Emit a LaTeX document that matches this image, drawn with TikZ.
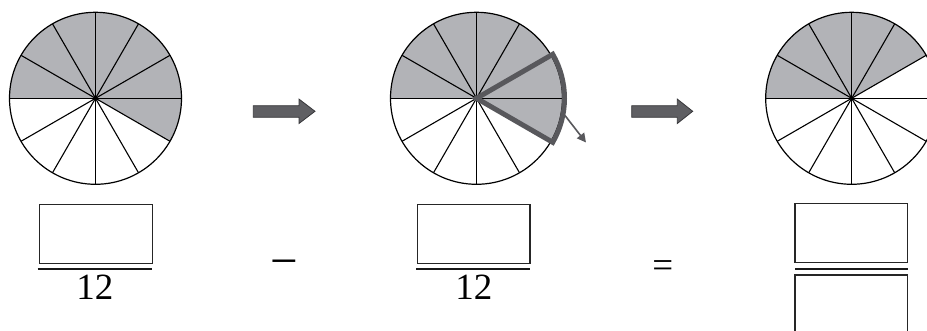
\documentclass[tikz,border=0pt]{standalone}
\usepackage{fontspec}
\setmainfont{Liberation Serif}
\usetikzlibrary{arrows.meta,calc}
\definecolor{sectorgray}{RGB}{178,179,183}
\definecolor{darkarrow}{RGB}{95,95,99}
\definecolor{darkedge}{RGB}{55,55,58}
\definecolor{outlinegray}{RGB}{88,88,92}
\tikzset{
  wheel/.style={circle,draw=black,line width=1.2pt,minimum size=172pt,inner sep=0pt},
  spoke/.style={draw=black,line width=1.1pt},
  blockarrow/.style={fill=darkarrow,draw=darkedge,line width=0.8pt,line join=miter},
  answerbox/.style={draw=black!85,line width=1.3pt,minimum width=112.7pt,minimum height=59pt,inner sep=0pt},
  fracbar/.style={draw=black!90,line width=1.8pt},
  numtext/.style={font=\fontsize{37}{40}\selectfont,inner sep=0pt},
  sectorline/.style={draw=outlinegray,line width=5pt,line join=miter},
}
\begin{document}
\begin{tikzpicture}[x=1pt,y=1pt]
\useasboundingbox (0,0) rectangle (927,331);
\clip (0,0) rectangle (927,331);

% ---------- circle 1 ----------
\coordinate (o1) at (95.5,232.7);
\fill[sectorgray] (o1) -- ++(-30:86) arc[start angle=-30,end angle=180,radius=86] -- cycle;
\foreach \a in {0,30,...,150}{
  \draw[spoke] ($(o1)+(\a:86)$) -- ($(o1)+(\a+180:86)$);
}
\node[wheel] (c1) at (o1) {};
\fill (o1) circle (1.8pt);

% ---------- circle 2 ----------
\coordinate (o2) at (476.5,232.7);
\fill[sectorgray] (o2) -- ++(-30:86) arc[start angle=-30,end angle=180,radius=86] -- cycle;
\foreach \a in {0,30,...,150}{
  \draw[spoke] ($(o2)+(\a:86)$) -- ($(o2)+(\a+180:86)$);
}
\node[wheel] (c2) at (o2) {};
\draw[sectorline] (o2) -- ++(30:88) arc[start angle=30,end angle=-30,radius=88] -- cycle;
\coordinate (p1) at (565,215.5);
\coordinate (p2) at (586,188.5);
\draw[draw=outlinegray,line width=1.6pt,-{Triangle[length=9pt,width=9pt]}] (p1) -- (p2);

% ---------- circle 3 ----------
\coordinate (o3) at (851.7,232.7);
\fill[sectorgray] (o3) -- ++(30:86) arc[start angle=30,end angle=180,radius=86] -- cycle;
\foreach \a in {0,30,...,150}{
  \draw[spoke] ($(o3)+(\a:86)$) -- ($(o3)+(\a+180:86)$);
}
\node[wheel] (c3) at (o3) {};
\fill (o3) circle (1.8pt);

% ---------- block arrows ----------
\draw[blockarrow] (253.3,213.7) -- (299,213.7) -- (299,207.5) -- (315,219.7)
  -- (299,231.9) -- (299,225.3) -- (253.3,225.3) -- cycle;
\draw[blockarrow] (631.7,213.7) -- (677.3,213.7) -- (677.3,207.5) -- (692.7,219.7)
  -- (677.3,231.9) -- (677.3,225.3) -- (631.7,225.3) -- cycle;

% ---------- fractions ----------
\node[answerbox] (b1) at (95.8,97.3) {};
\draw[fracbar] (37.7,62) -- (151.7,62);
\node[numtext,anchor=base] (n1) at (94.8,31) {12};

\node[answerbox] (b2) at (473.7,97.3) {};
\draw[fracbar] (416,62) -- (530,62);
\node[numtext,anchor=base] (n2) at (473.8,31) {12};

\node[answerbox] (b3) at (851.4,98.3) {};
\draw[fracbar] (795,62.3) -- (908,62.3);
\node[answerbox] (b4) at (851.4,26.5) {};

% ---------- operators ----------
\node[inner sep=0pt,font=\fontsize{49}{52}\selectfont] (minus) at (284.5,62.7) {−};
\node[numtext] (equals) at (662.7,61.8) {=};
\end{tikzpicture}
\end{document}
